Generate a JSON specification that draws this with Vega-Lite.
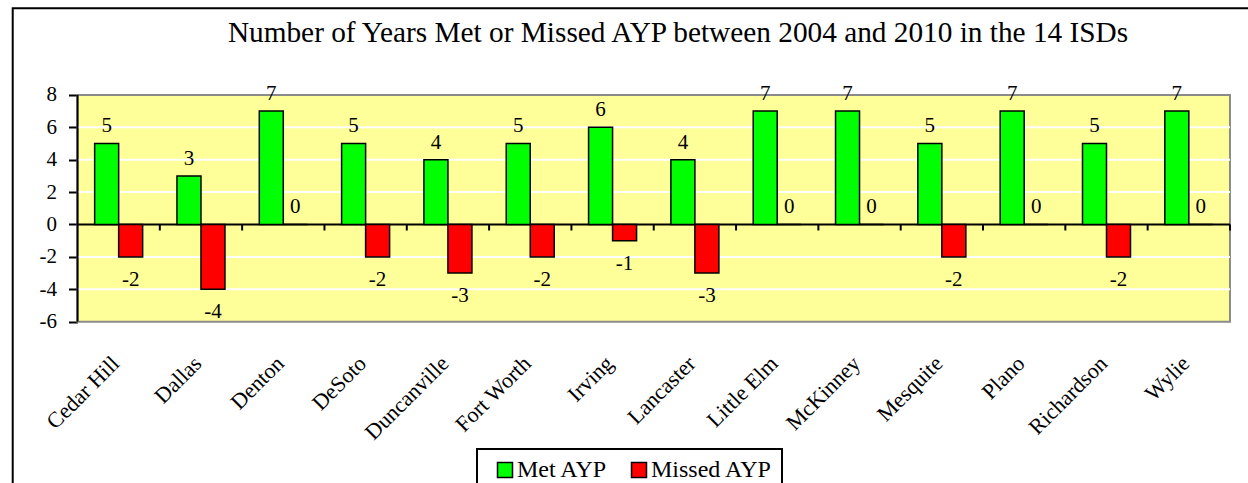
{
  "$schema": "https://vega.github.io/schema/vega-lite/v6.json",
  "width": 1248,
  "height": 483,
  "padding": 0,
  "autosize": {"type": "none"},
  "background": "white",
  "config": {"view": {"stroke": null}, "font": "Liberation Serif", "legend": {"strokeWidth": 2}},
  "datasets": {
    "isd": [
      {"district": "Cedar Hill", "series": "Met AYP", "value": 5},
      {"district": "Cedar Hill", "series": "Missed AYP", "value": -2},
      {"district": "Dallas", "series": "Met AYP", "value": 3},
      {"district": "Dallas", "series": "Missed AYP", "value": -4},
      {"district": "Denton", "series": "Met AYP", "value": 7},
      {"district": "Denton", "series": "Missed AYP", "value": 0},
      {"district": "DeSoto", "series": "Met AYP", "value": 5},
      {"district": "DeSoto", "series": "Missed AYP", "value": -2},
      {"district": "Duncanville", "series": "Met AYP", "value": 4},
      {"district": "Duncanville", "series": "Missed AYP", "value": -3},
      {"district": "Fort Worth", "series": "Met AYP", "value": 5},
      {"district": "Fort Worth", "series": "Missed AYP", "value": -2},
      {"district": "Irving", "series": "Met AYP", "value": 6},
      {"district": "Irving", "series": "Missed AYP", "value": -1},
      {"district": "Lancaster", "series": "Met AYP", "value": 4},
      {"district": "Lancaster", "series": "Missed AYP", "value": -3},
      {"district": "Little Elm", "series": "Met AYP", "value": 7},
      {"district": "Little Elm", "series": "Missed AYP", "value": 0},
      {"district": "McKinney", "series": "Met AYP", "value": 7},
      {"district": "McKinney", "series": "Missed AYP", "value": 0},
      {"district": "Mesquite", "series": "Met AYP", "value": 5},
      {"district": "Mesquite", "series": "Missed AYP", "value": -2},
      {"district": "Plano", "series": "Met AYP", "value": 7},
      {"district": "Plano", "series": "Missed AYP", "value": 0},
      {"district": "Richardson", "series": "Met AYP", "value": 5},
      {"district": "Richardson", "series": "Missed AYP", "value": -2},
      {"district": "Wylie", "series": "Met AYP", "value": 7},
      {"district": "Wylie", "series": "Missed AYP", "value": 0}
    ],
    "grid": [{"v": -4}, {"v": -2}, {"v": 2}, {"v": 4}, {"v": 6}],
    "cats": [{"k": 1}, {"k": 2}, {"k": 3}, {"k": 4}, {"k": 5}, {"k": 6}, {"k": 7}, {"k": 8}, {"k": 9}, {"k": 10}, {"k": 11}, {"k": 12}, {"k": 13}, {"k": 14}],
    "one": [{}],
    "title": [{"t": "Number of Years Met or Missed AYP between 2004 and 2010 in the 14 ISDs"}]
  },
  "layer": [
    {
      "layer": [
        {
          "data": {"name": "one"},
          "mark": {"type": "rect", "fillOpacity": 0, "stroke": "black", "strokeWidth": 2},
          "encoding": {
            "x": {"datum": -0.787, "type": "quantitative", "scale": {"domain": [-0.9415, 14.219], "nice": false, "zero": false}, "axis": null},
            "x2": {"datum": 14.6},
            "y": {"datum": 13.346, "type": "quantitative", "scale": {"domain": [-15.957, 13.858], "nice": false, "zero": false}, "axis": null},
            "y2": {"datum": -17}
          }
        },
        {
          "data": {"name": "title"},
          "mark": {"type": "text", "font": "Liberation Serif", "fontSize": 29.3, "color": "black", "align": "center", "baseline": "alphabetic"},
          "encoding": {
            "x": {"datum": 7.295, "type": "quantitative", "scale": {"domain": [-0.9415, 14.219], "nice": false, "zero": false}, "axis": null},
            "y": {"datum": 11.27, "type": "quantitative", "scale": {"domain": [-15.957, 13.858], "nice": false, "zero": false}, "axis": null},
            "text": {"field": "t", "type": "nominal"}
          }
        },
        {
          "data": {"name": "one"},
          "mark": {"type": "rect", "fill": "#FFFF99", "stroke": "#8a8a8a", "strokeWidth": 2},
          "encoding": {
            "x": {"datum": 0, "type": "quantitative", "scale": {"domain": [-0.9415, 14.219], "nice": false, "zero": false}, "axis": null},
            "x2": {"datum": 14},
            "y": {"datum": -6, "type": "quantitative", "scale": {"domain": [-15.957, 13.858], "nice": false, "zero": false}, "axis": null},
            "y2": {"datum": 8}
          }
        },
        {
          "data": {"name": "grid"},
          "mark": {"type": "rule", "color": "white", "strokeWidth": 2},
          "encoding": {
            "x": {"datum": 0, "type": "quantitative", "scale": {"domain": [-0.9415, 14.219], "nice": false, "zero": false}, "axis": null},
            "x2": {"datum": 14},
            "y": {"field": "v", "type": "quantitative", "scale": {"domain": [-15.957, 13.858], "nice": false, "zero": false}, "axis": null}
          }
        },
        {
          "data": {"name": "one"},
          "mark": {"type": "rule", "color": "black", "strokeWidth": 2},
          "encoding": {
            "x": {"datum": 0, "type": "quantitative", "scale": {"domain": [-0.9415, 14.219], "nice": false, "zero": false}, "axis": null},
            "x2": {"datum": 14},
            "y": {"datum": 0, "type": "quantitative", "scale": {"domain": [-15.957, 13.858], "nice": false, "zero": false}, "axis": null}
          }
        },
        {
          "data": {"name": "cats"},
          "mark": {"type": "rule", "color": "black", "strokeWidth": 2},
          "encoding": {
            "x": {"field": "k", "type": "quantitative", "scale": {"domain": [-0.9415, 14.219], "nice": false, "zero": false}, "axis": null},
            "y": {"datum": 0, "type": "quantitative", "scale": {"domain": [-15.957, 13.858], "nice": false, "zero": false}, "axis": null},
            "y2": {"datum": -0.37}
          }
        },
        {
          "data": {"name": "one"},
          "mark": {"type": "rule", "color": "black", "strokeWidth": 2},
          "encoding": {
            "x": {"datum": 0, "type": "quantitative", "scale": {"domain": [-0.9415, 14.219], "nice": false, "zero": false}, "axis": null},
            "y": {"datum": -6, "type": "quantitative", "scale": {"domain": [-15.957, 13.858], "nice": false, "zero": false}, "axis": null},
            "y2": {"datum": 8}
          }
        }
      ]
    },
    {
      "data": {"name": "isd"},
      "layer": [
        {
          "mark": {"type": "bar", "stroke": "black", "strokeWidth": 1.5},
          "encoding": {
            "x": {
              "field": "district", "type": "nominal", "sort": null,
              "scale": {"paddingInner": 0.417, "paddingOuter": 0.7886, "align": 0.729},
              "axis": {
                "orient": "bottom", "offset": -161.5, "domain": false, "ticks": false, "tickSize": 0,
                "labelAngle": -45, "labelAlign": "right", "labelBaseline": "middle",
                "labelFont": "Liberation Serif", "labelFontSize": 22, "labelColor": "black",
                "labelPadding": 38, "labelOffset": -3, "labelOverlap": false, "labelLimit": 0, "title": null
              }
            },
            "xOffset": {"field": "series", "type": "nominal", "scale": {"paddingInner": 0, "paddingOuter": 0}},
            "y": {
              "field": "value", "type": "quantitative",
              "scale": {"domain": [-15.957, 13.858], "nice": false, "zero": false},
              "axis": {
                "orient": "left",
                "values": [-6, -4, -2, 0, 2, 4, 6, 8], "offset": -77.5, "domain": false, "grid": false,
                "ticks": true, "tickColor": "black", "tickWidth": 2, "tickSize": 9,
                "labelExpr": "'' + datum.value",
                "labelFont": "Liberation Serif", "labelFontSize": 21, "labelColor": "black",
                "labelPadding": 12, "labelFlush": false, "labelOverlap": false, "title": null
              }
            },
            "y2": {"datum": 0},
            "color": {
              "field": "series", "type": "nominal",
              "scale": {"domain": ["Met AYP", "Missed AYP"], "range": ["#00FF00", "#FF0000"]},
              "legend": {
                "title": null, "orient": "none", "legendX": 477, "legendY": 449, "direction": "horizontal",
                "symbolType": "square", "symbolSize": 225, "symbolStrokeColor": "black", "symbolStrokeWidth": 1.5,
                "symbolOffset": 7,
                "labelFont": "Liberation Serif", "labelFontSize": 24, "labelColor": "black", "labelOffset": 0,
                "columnPadding": 12, "padding": 9, "strokeColor": "black"
              }
            }
          }
        },
        {
          "transform": [{"filter": "datum.value >= 0"}],
          "mark": {"type": "text", "baseline": "alphabetic", "dy": -11, "font": "Liberation Serif", "fontSize": 21, "color": "black"},
          "encoding": {
            "x": {"field": "district", "type": "nominal", "sort": null},
            "xOffset": {"field": "series", "type": "nominal"},
            "y": {"field": "value", "type": "quantitative"},
            "text": {"field": "value", "type": "nominal"}
          }
        },
        {
          "transform": [{"filter": "datum.value < 0"}],
          "mark": {"type": "text", "baseline": "alphabetic", "dy": 29, "font": "Liberation Serif", "fontSize": 21, "color": "black"},
          "encoding": {
            "x": {"field": "district", "type": "nominal", "sort": null},
            "xOffset": {"field": "series", "type": "nominal"},
            "y": {"field": "value", "type": "quantitative"},
            "text": {"field": "value", "type": "nominal"}
          }
        }
      ]
    }
  ],
  "resolve": {"scale": {"x": "independent", "y": "independent"}}
}
